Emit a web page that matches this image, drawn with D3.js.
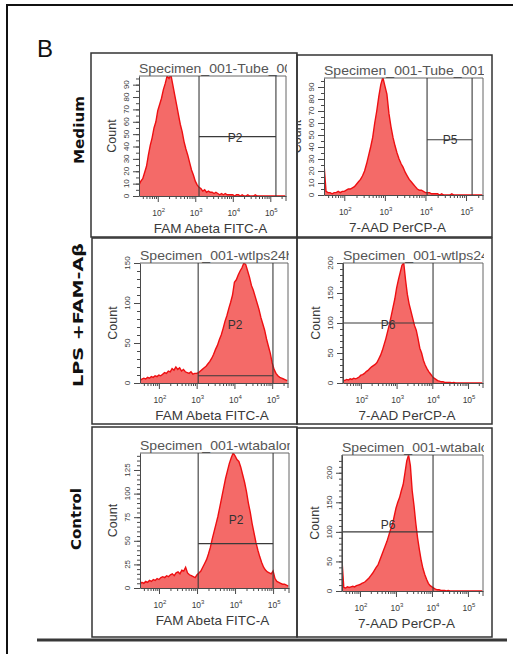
<!DOCTYPE html>
<html><head><meta charset="utf-8">
<script src="https://cdn.jsdelivr.net/npm/d3@7"></script>
<style>body{margin:0;background:#fff;} svg{display:block;font-family:"Liberation Sans",Arial,sans-serif;}</style>
</head><body><svg id="c" width="513" height="654"></svg>
<script>
// ---------- DATA ----------
// bin centres in log10(fluorescence), 1.50 .. 5.40 step 0.05 (79 bins)
const binLog = d3.range(79).map(i => +(1.5 + i * 0.05).toFixed(2));
const rowLabels = ["Medium", "LPS +FAM-Aβ", "Control"];
const channelTitles = ["FAM Abeta FITC-A", "7-AAD PerCP-A"];
const specimenTitles = [
  ["Specimen_001-Tube_001", "Specimen_001-Tube_001"],
  ["Specimen_001-wtlps24h", "Specimen_001-wtlps24h"],
  ["Specimen_001-wtabalone", "Specimen_001-wtabalone"]
];
const xTickExponents = [2, 3, 4, 5];
const gateNames = [["P2", "P5"], ["P2", "P6"], ["P2", "P6"]];
const yTickValues = [
  [[0,10,20,30,40,50,60,70,80,90], [0,10,20,30,40,50,60,70,80,90]],
  [[0,50,100,150], [0,50,100,150,200]],
  [[0,25,50,75,100,125], [0,50,100,150,200]]
];
const yMinorStep = [[5, 5], [10, 10], [5, 10]];
const yMax = [[97, 97.5], [150, 200], [143, 230]];
// gates: log10 limits and count level; label position (log10, count)
const gateLo    = [[3.1, 4.04], [3.04, 1.5], [3.03, 1.5]];
const gateHi    = [[5.15, 5.15], [5.02, 4.02], [5.0, 4.03]];
const gateLevel = [[48, 46], [9, 100], [47, 100]];
const gateLabelX = [[4.06, 4.61], [4.02, 2.76], [4.03, 2.78]];
const gateLabelY = [[47, 46], [72, 97], [72, 112]];

// counts per bin
const mediumFAM = [
  9,12,14,19,24,33,41,47,55,60,
  69,74,79,86,91,97,95,98,90,82,
  74,66,58,52,44,38,33,27,21,17,
  12,9,7,6,4,5,3,4,3,3,
  2,3,2,1,2,1,2,1,1,1,
  1,0,1,1,0,1,0,0,1,0,
  0,0,1,0,0,0,0,0,0,0,
  0,0,0,0,0,0,0,0,0];
const medium7AAD = [
  26,3,2,2,1,2,2,3,2,3,
  3,4,5,5,6,7,9,11,13,16,
  20,26,33,40,48,60,70,82,92,98,
  91,84,68,57,48,41,35,30,26,23,
  19,16,13,11,9,7,5,4,4,3,
  2,2,2,1,1,1,1,0,1,0,
  0,0,0,1,0,0,0,0,0,0,
  0,0,0,0,0,0,0,0,0];
const lpsFAM = [
  3,5,6,5,7,6,8,7,9,8,
  10,9,11,13,12,15,14,18,16,20,
  17,19,15,17,14,13,12,14,11,12,
  12,13,15,17,19,21,24,27,31,36,
  42,47,54,60,68,77,84,93,101,110,
  126,129,135,140,144,150,148,140,132,122,
  116,108,100,92,82,74,66,55,46,37,
  25,17,12,9,7,6,5,4,3];
const lps7AAD = [
  5,4,6,5,7,6,8,7,8,10,
  13,14,16,19,21,24,27,29,31,34,
  40,46,54,64,74,86,98,112,126,140,
  158,172,184,196,200,172,148,132,120,108,
  96,88,74,58,50,38,30,24,19,15,
  11,8,6,4,3,2,2,1,1,1,
  1,0,1,0,0,0,0,0,0,0,
  0,0,0,0,0,0,0,0,0];
const controlFAM = [
  4,6,5,7,6,8,7,9,8,10,
  9,11,12,11,13,12,14,15,13,16,
  17,15,19,18,22,16,14,13,12,11,
  14,16,18,22,26,30,36,43,52,60,
  68,76,86,96,106,116,124,132,138,143,
  140,136,134,128,120,112,102,90,80,68,
  58,48,40,33,27,22,19,17,16,15,
  18,10,7,6,5,4,4,3,2];
const control7AAD = [
  52,6,5,7,6,7,8,7,9,10,
  11,13,14,16,19,22,26,30,35,40,
  44,52,60,68,76,84,94,104,112,126,
  140,150,158,170,180,200,220,230,212,170,
  145,115,90,70,52,38,28,20,13,9,
  7,5,3,2,2,1,1,1,0,1,
  0,0,0,0,0,0,0,0,0,0,
  0,0,0,0,0,0,0,0,0];
const seriesGrid = [[mediumFAM, medium7AAD], [lpsFAM, lps7AAD], [controlFAM, control7AAD]];

// ---------- LAYOUT ----------
const layout = [
  [ {box:[91,53,297,237], x0:139, x1:286, yTop:76,  yBase:196},
    {box:[297,55,492,237], x0:324, x1:483, yTop:78,  yBase:195} ],
  [ {box:[92,238,297,424], x0:140, x1:288, yTop:263, yBase:383},
    {box:[297,238,492,424], x0:343, x1:483, yTop:263, yBase:383} ],
  [ {box:[92,427,297,637], x0:140, x1:289, yTop:453, yBase:588},
    {box:[297,428,492,637], x0:342, x1:483, yTop:455, yBase:591} ]
];
const rowLabelPos = [{x:79, y:130, len:68}, {x:78, y:315, len:144}, {x:76, y:519, len:62}];
const FILL = "#f46a68", LINE = "#ee0f12", TXT = "#3a3a3a", AX = "#4a4a4a";

const svg = d3.select("#c");
const defs = svg.append("defs");

// outer frame
svg.append("line").attr("x1", 6).attr("x2", 513).attr("y1", 5).attr("y2", 5)
  .attr("stroke", "#111").attr("stroke-width", 2);
svg.append("line").attr("x1", 7).attr("x2", 7).attr("y1", 5).attr("y2", 654)
  .attr("stroke", "#111").attr("stroke-width", 2);
svg.append("text").attr("x", 37).attr("y", 57).text("B")
  .style("font-size", "24px").attr("fill", "#111");

// row labels
rowLabels.forEach((t, r) => {
  const p = rowLabelPos[r];
  svg.append("text")
    .attr("transform", `translate(${p.x},${p.y}) rotate(-90)`)
    .attr("text-anchor", "middle").attr("dominant-baseline", "central")
    .attr("textLength", p.len).attr("lengthAdjust", "spacingAndGlyphs")
    .style("font-family", "'DejaVu Sans', sans-serif").style("font-weight", "bold")
    .style("font-size", "14px").attr("fill", "#111").text(t);
});

const majorX = xTickExponents.map(e => Math.pow(10, e));
const minorX = [];
for (let e = 1; e <= 5; e++) for (let m = 2; m <= 9; m++) {
  const v = m * Math.pow(10, e);
  if (v > Math.pow(10, 1.5) && v < 262144) minorX.push(v);
}

layout.forEach((row, r) => row.forEach((L, c) => {
  const id = `p${r}${c}`;
  const [bx0, by0, bx1, by1] = L.box;
  defs.append("clipPath").attr("id", "box" + id).append("rect")
    .attr("x", bx0 + 1).attr("y", by0).attr("width", bx1 - bx0 - 1).attr("height", by1 - by0);
  defs.append("clipPath").attr("id", "plot" + id).append("rect")
    .attr("x", L.x0).attr("y", L.yTop).attr("width", L.x1 - L.x0).attr("height", L.yBase - L.yTop);
  defs.append("clipPath").attr("id", "title" + id).append("rect")
    .attr("x", L.x0 - 2).attr("y", L.yTop - 20).attr("width", L.x1 - L.x0 + 3).attr("height", 23);

  const g = svg.append("g").attr("clip-path", `url(#box${id})`);
  const x = d3.scaleLog().domain([Math.pow(10, 1.5), 262144]).range([L.x0, L.x1]);
  const y = d3.scaleLinear().domain([0, yMax[r][c]]).range([L.yBase, L.yTop]);
  const data = binLog.map((l, i) => ({v: Math.pow(10, l), n: seriesGrid[r][c][i]}));

  // histogram
  const hg = g.append("g").attr("clip-path", `url(#plot${id})`);
  hg.append("path").datum(data)
    .attr("d", d3.area().x(d => x(d.v)).y0(L.yBase).y1(d => y(d.n)))
    .attr("fill", FILL);
  hg.append("path").datum(data)
    .attr("d", d3.line().x(d => x(d.v)).y(d => y(d.n)))
    .attr("fill", "none").attr("stroke", LINE).attr("stroke-width", 1.4);

  // plot frame (top and right)
  g.append("path")
    .attr("d", `M${L.x0},${L.yTop}H${L.x1}V${L.yBase}`)
    .attr("fill", "none").attr("stroke", "#666").attr("stroke-width", 1);

  // gate
  const gx0 = x(Math.pow(10, gateLo[r][c])), gx1 = x(Math.pow(10, gateHi[r][c]));
  const gy = y(gateLevel[r][c]);
  const gate = g.append("g").attr("stroke", "#3a3a3a").attr("stroke-width", 1.1).attr("fill", "none");
  gate.append("line").attr("x1", gx0).attr("x2", gx0).attr("y1", L.yTop).attr("y2", L.yBase);
  gate.append("line").attr("x1", gx1).attr("x2", gx1).attr("y1", L.yTop).attr("y2", L.yBase);
  gate.append("line").attr("x1", gx0).attr("x2", gx1).attr("y1", gy).attr("y2", gy);
  g.append("text")
    .attr("x", x(Math.pow(10, gateLabelX[r][c]))).attr("y", y(gateLabelY[r][c]))
    .attr("text-anchor", "middle").attr("dominant-baseline", "central")
    .style("font-size", "12px").attr("fill", "#333").text(gateNames[r][c]);

  // x axis
  const xa = g.append("g").attr("transform", `translate(0,${L.yBase})`);
  xa.call(d3.axisBottom(x).tickValues(minorX).tickSize(3).tickSizeOuter(0).tickFormat(""));
  xa.append("g").call(d3.axisBottom(x).tickValues(majorX).tickSize(6).tickSizeOuter(0).tickFormat(""))
    .select(".domain").remove();
  xa.selectAll("path,line").attr("stroke", AX);
  xa.append("line").attr("x1", L.x1).attr("x2", L.x1).attr("y1", 0).attr("y2", 5).attr("stroke", AX);
  xTickExponents.forEach(e => {
    const t = g.append("text").attr("x", x(Math.pow(10, e)) + 1).attr("y", L.yBase + 20)
      .attr("text-anchor", "middle").style("font-size", "8.5px").attr("fill", TXT);
    t.append("tspan").text("10");
    t.append("tspan").attr("dy", -4).style("font-size", "6px").text(e);
  });
  g.append("text").attr("x", (L.x0 + L.x1) / 2 + (c === 0 ? -2 : -6)).attr("y", L.yBase + 37)
    .attr("text-anchor", "middle").style("font-size", "13.5px").attr("fill", TXT)
    .text(channelTitles[c]);

  // y axis
  const minorY = d3.range(0, yMax[r][c], yMinorStep[r][c]);
  const ya = g.append("g").attr("transform", `translate(${L.x0},0)`);
  ya.call(d3.axisLeft(y).tickValues(minorY).tickSize(3).tickSizeOuter(0).tickFormat(""));
  ya.append("g").call(d3.axisLeft(y).tickValues(yTickValues[r][c]).tickSize(6).tickSizeOuter(0).tickFormat(""))
    .select(".domain").remove();
  ya.selectAll("path,line").attr("stroke", AX);
  yTickValues[r][c].forEach(v => {
    g.append("text").attr("transform", `translate(${L.x0 - 13},${y(v)}) rotate(-90)`)
      .attr("text-anchor", "middle").attr("dominant-baseline", "central")
      .style("font-size", "8px").attr("fill", TXT).text(v);
  });
  g.append("text").attr("transform", `translate(${L.x0 - 27},${(L.yTop + L.yBase) / 2}) rotate(-90)`)
    .attr("text-anchor", "middle").attr("dominant-baseline", "central")
    .style("font-size", "12.5px").attr("fill", TXT).text("Count");

  // specimen title (clipped at the plot's right edge)
  g.append("g").attr("clip-path", `url(#title${id})`)
    .append("text").attr("transform", `translate(${L.x0},${L.yTop - 3}) scale(1.08,1)`)
    .style("font-size", "13px").attr("fill", "#555").text(specimenTitles[r][c]);

  // panel box
  svg.append("rect").attr("x", bx0).attr("y", by0).attr("width", bx1 - bx0).attr("height", by1 - by0)
    .attr("fill", "none").attr("stroke", "#333").attr("stroke-width", 1.5);
}));

// bottom bar
svg.append("line").attr("x1", 37).attr("x2", 507).attr("y1", 640).attr("y2", 640)
  .attr("stroke", "#383838").attr("stroke-width", 3);
</script></body></html>
